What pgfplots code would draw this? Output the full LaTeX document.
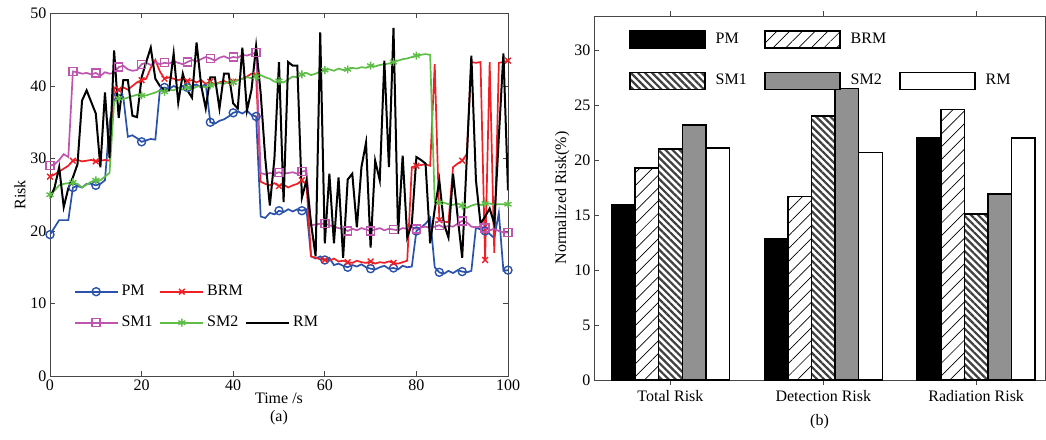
\documentclass[border=0pt]{standalone}
\usepackage{fontspec}
\setmainfont{Liberation Serif}
\usepackage{pgfplots}
\pgfplotsset{compat=1.18}
\usetikzlibrary{patterns.meta}

\definecolor{cPM}{RGB}{42,82,172}
\definecolor{cBRM}{RGB}{238,32,38}
\definecolor{cSM1}{RGB}{190,85,175}
\definecolor{cSM2}{RGB}{95,190,72}
\definecolor{axgray}{RGB}{70,70,70}
\definecolor{barg}{RGB}{145,145,145}

\pgfplotsset{
  common/.style={
    scale only axis,
    font=\fontsize{16}{18}\selectfont,
    /pgf/number format/assume math mode=true,
    axis line style={axgray, line width=0.8pt},
    every tick/.style={axgray, line width=0.8pt},
    tick align=inside,
    major tick length=5pt,
  },
  /pgfplots/boxlegend/.style={
    /pgfplots/legend image code/.code={%
      \draw[##1] (0pt,-8.5pt) rectangle (75pt,8.5pt);
    }%
  },
  /pgfplots/linelegend/.style={
    /pgfplots/legend image code/.code={%
      \draw[mark repeat=2,mark phase=2,##1] plot coordinates {(0pt,0pt) (21.5pt,0pt) (43pt,0pt)};
    }%
  },
}

\begin{document}
\begin{tikzpicture}
\path[use as bounding box] (0pt,0pt) rectangle (1046pt,439pt);

% (a) risk over time
\begin{axis}[common,
  at={(50pt,63pt)}, anchor=south west,
  width=458pt, height=362.5pt,
  xmin=0, xmax=100, ymin=0, ymax=50,
  xtick={0,20,...,100}, ytick={0,10,...,50},
  xlabel={Time /s\\(a)}, xlabel style={align=center, yshift=4pt},
  ylabel={Risk}, ylabel style={yshift=-2pt},
  legend columns=3,
  legend style={at={(0.045,0.258)}, anchor=north west, draw=none, fill=none,
    font=\fontsize{16}{18}\selectfont, row sep=17pt,
    nodes={inner sep=0pt, text height=11pt, text depth=3pt},
    /tikz/every odd column/.append style={column sep=3pt},
    /tikz/every even column/.append style={column sep=2pt, text width=36pt, align=left},
    /tikz/column 4/.append style={column sep=10pt}},
  every axis plot/.append style={line width=1.7pt, mark repeat=5, mark size=4pt,
    mark options={solid, line width=1.4pt}, linelegend},
]
\addplot[cPM, mark=o] coordinates {
(0,19.5)(1,20.5)(2,21.5)(3,21.5)(4,21.5)(5,26)(6,26.2)(7,26)(8,26.5)(9,26.5)(10,26.3)
(11,26.5)(12,27)(13,35)(14,38)(15,38.8)(16,38.5)(17,33)(18,33.2)(19,32.8)(20,32.3)
(21,32.5)(22,32.7)(23,32.6)(24,39.5)(25,39.8)(26,39.6)(27,40)(28,39.7)(29,40)(30,39.8)
(31,40)(32,40.2)(33,39.8)(34,40.3)(35,35)(36,34.8)(37,35.2)(38,35.4)(39,35.8)(40,36.3)
(41,36.5)(42,36.2)(43,36.6)(44,36)(45,35.8)(46,22)(47,21.8)(48,22.5)(49,22.3)(50,22.8)
(51,22.6)(52,23)(53,22.7)(54,23)(55,22.8)(56,23)(57,16.5)(58,16.2)(59,16.5)(60,16)
(61,16.3)(62,15.3)(63,15.5)(64,15.2)(65,15)(66,15.3)(67,15.1)(68,15.4)(69,15)(70,14.8)
(71,14.7)(72,15)(73,15.2)(74,14.8)(75,14.9)(76,14.7)(77,15.2)(78,15)(79,15.1)(80,20)
(81,20.5)(82,21)(83,21.8)(84,15)(85,14.3)(86,14.1)(87,14.5)(88,14.2)(89,14.6)(90,14.4)
(91,14.3)(92,14.5)(93,20.5)(94,20.2)(95,20)(96,19.6)(97,19)(98,22.5)(99,14.5)(100,14.6)};
\addlegendentry{PM}
\addplot[cBRM, mark=x] coordinates {
(0,27.5)(1,27.8)(2,28.2)(3,28.6)(4,29)(5,29.7)(6,29.8)(7,29.6)(8,29.7)(9,29.8)(10,29.6)
(11,29.7)(12,29.8)(13,29.7)(14,39.8)(15,39.5)(16,39.8)(17,39.5)(18,40)(19,40.5)(20,40.8)
(21,41)(22,42.5)(23,43.6)(24,42)(25,41)(26,41.2)(27,41)(28,40.8)(29,41)(30,40.7)
(31,40.8)(32,40.5)(33,40.8)(34,40.3)(35,40.6)(36,40.2)(37,40.5)(38,40.7)(39,40.4)(40,40.6)
(41,40.8)(42,41)(43,41.3)(44,41.7)(45,41.5)(46,26.8)(47,26.5)(48,26.3)(49,26.6)(50,26.2)
(51,26.4)(52,26)(53,26.3)(54,26.5)(55,27)(56,26.4)(57,16.5)(58,16.3)(59,16.1)(60,16)
(61,15.9)(62,16.2)(63,15.8)(64,15.9)(65,15.7)(66,15.6)(67,15.9)(68,15.7)(69,15.6)(70,15.8)
(71,15.5)(72,15.7)(73,15.6)(74,15.8)(75,15.6)(76,15.5)(77,15.7)(78,15.9)(79,28.8)(80,29)
(81,29.1)(82,29.2)(83,29)(84,43)(85,21.5)(86,21.3)(87,21.2)(88,28.8)(89,29.3)(90,29.7)
(91,30.6)(92,43.3)(93,43.2)(94,43.3)(95,16)(96,43.3)(97,17)(98,43.2)(99,43.3)(100,43.5)};
\addlegendentry{BRM}
\addlegendimage{empty legend}
\addlegendentry{}
\addplot[cSM1, mark=square] coordinates {
(0,29)(1,29.2)(2,29.8)(3,30.6)(4,30.2)(5,42)(6,41.9)(7,41.7)(8,41.8)(9,41.6)(10,41.8)
(11,41.4)(12,41.9)(13,41.7)(14,41.8)(15,42.6)(16,42.8)(17,42.3)(18,42.1)(19,42.2)(20,43)
(21,43.2)(22,42.9)(23,43.3)(24,43)(25,43.2)(26,43.1)(27,43.4)(28,43.2)(29,43)(30,43.3)
(31,43.6)(32,43.4)(33,43.7)(34,44)(35,43.8)(36,43.5)(37,43.9)(38,44.1)(39,43.8)(40,44)
(41,43.9)(42,44.3)(43,44.2)(44,44.4)(45,44.6)(46,28)(47,27.8)(48,28)(49,27.9)(50,28.1)
(51,27.9)(52,28)(53,28.1)(54,27.9)(55,28.2)(56,28.3)(57,20.8)(58,20.9)(59,21)(60,21)
(61,20.8)(62,20.6)(63,20.4)(64,20.3)(65,20)(66,20.3)(67,20.1)(68,20.4)(69,20.2)(70,20)
(71,20.2)(72,20.4)(73,20.1)(74,20.3)(75,20.2)(76,20.1)(77,20.4)(78,20.3)(79,20.5)(80,20.3)
(81,20.5)(82,20.6)(83,20.4)(84,20.6)(85,20.8)(86,20.5)(87,20.7)(88,20.6)(89,21)(90,21.4)
(91,21.2)(92,20.6)(93,20.5)(94,20.6)(95,20.4)(96,20.1)(97,20.3)(98,20)(99,19.8)(100,19.8)};
\addlegendentry{SM1}
\addplot[cSM2, mark=asterisk] coordinates {
(0,25)(1,25.6)(2,26.3)(3,26.5)(4,26.6)(5,26.7)(6,26.5)(7,26)(8,26.4)(9,26.8)(10,27)
(11,27)(12,27.5)(13,28)(14,37.8)(15,38.3)(16,38.2)(17,38.4)(18,38.6)(19,38.8)(20,38.7)
(21,38.7)(22,38.9)(23,39.1)(24,39.4)(25,39.2)(26,39.5)(27,39.4)(28,39.7)(29,39.5)(30,39.8)
(31,39.6)(32,39.9)(33,40)(34,39.8)(35,40.1)(36,40.2)(37,40.4)(38,40.3)(39,40.6)(40,40.5)
(41,40.8)(42,41)(43,41.2)(44,41.1)(45,41.3)(46,41.5)(47,41.2)(48,41)(49,40.6)(50,40.7)
(51,40.5)(52,40.9)(53,41.3)(54,41.2)(55,41.6)(56,41.8)(57,41.5)(58,41.7)(59,42)(60,42.2)
(61,42.3)(62,42.1)(63,42.4)(64,42.2)(65,42.3)(66,42.5)(67,42.4)(68,42.6)(69,42.5)(70,42.8)
(71,42.7)(72,42.9)(73,43)(74,43.1)(75,43.3)(76,43.5)(77,43.7)(78,43.8)(79,44)(80,44.2)
(81,44.3)(82,44.4)(83,44.3)(84,24)(85,23.9)(86,23.9)(87,23.7)(88,23.6)(89,23.8)(90,23.5)
(91,23.2)(92,23.5)(93,23.7)(94,23.6)(95,23.8)(96,23.8)(97,23.6)(98,23.7)(99,23.7)(100,23.7)};
\addlegendentry{SM2}
\addplot[black, line width=2pt, mark=none] coordinates {
(0,24.5)(1,26)(2,28.8)(3,23.3)(4,25.9)(5,27.4)(6,29.2)(7,38)(8,39.4)(9,37.8)(10,36.2)
(11,28.8)(12,39.1)(13,30.1)(14,44.9)(15,35.6)(16,40.8)(17,40.8)(18,35.9)(19,35.7)(20,41.2)
(21,43.3)(22,45.3)(23,41)(24,40)(25,39.4)(26,39.4)(27,44.5)(28,37.7)(29,41.7)(30,39.4)
(31,38.4)(32,46)(33,40.1)(34,36.9)(35,41.2)(36,41.2)(37,36.9)(38,41.7)(39,41.7)(40,37.6)
(41,36.9)(42,45.3)(43,36.6)(44,39.5)(45,45.5)(46,39)(47,30)(48,23.5)(49,30)(50,43.3)
(51,24)(52,43.3)(53,42.8)(54,42.8)(55,24.6)(56,27)(57,21)(58,16.5)(59,47.4)(60,18.3)
(61,27.9)(62,18.3)(63,27.4)(64,16.3)(65,27.1)(66,27.9)(67,20.5)(68,28.8)(69,32.2)(70,17.7)
(71,29.7)(72,27)(73,43.5)(74,28.8)(75,48)(76,19.6)(77,30.4)(78,19.1)(79,21)(80,30.2)
(81,29.8)(82,29.3)(83,18.3)(84,23)(85,27)(86,21)(87,19.1)(88,27.9)(89,22)(90,16.3)
(91,30)(92,44.2)(93,27)(94,21)(95,22)(96,23.1)(97,21)(98,33)(99,44.5)(100,25.6)};
\addlegendentry{RM}
\end{axis}

% (b) normalized risk
\begin{axis}[common,
  at={(594pt,59pt)}, anchor=south west,
  width=451pt, height=364pt,
  ybar=0pt, bar width=23.6pt,
  xmin=-0.5, xmax=2.45, ymin=0, ymax=33.1,
  xtick={0,1,2}, xticklabels={Total Risk, Detection Risk, Radiation Risk},
  ytick={0,5,...,30}, ytick pos=left,
  xticklabel style={yshift=-2pt},
  xlabel={(b)}, xlabel style={yshift=-6pt},
  ylabel={Normalized Risk(\%)}, ylabel style={yshift=-2pt},
  legend columns=3,
  legend style={at={(0.071,0.967)}, anchor=north west, draw=none, fill=none,
    font=\fontsize{16}{18}\selectfont, row sep=23pt,
    nodes={inner sep=0pt, text height=11pt, text depth=3pt},
    /tikz/every odd column/.append style={column sep=10pt},
    /tikz/every even column/.append style={column sep=12.5pt, text width=36pt, align=left}},
  every axis plot/.append style={draw=black, line width=1.5pt},
]
\addplot[fill=black, boxlegend] coordinates {(0,15.9) (1,12.8) (2,22.0)};
\addlegendentry{PM}
\addplot[pattern={Lines[angle=45,distance=9pt,line width=0.7pt]}, pattern color=black, boxlegend]
  coordinates {(0,19.3) (1,16.7) (2,24.6)};
\addlegendentry{BRM}
\addlegendimage{empty legend}
\addlegendentry{}
\addplot[pattern={Lines[angle=-45,distance=5pt,line width=2.2pt]}, pattern color=black!75, boxlegend]
  coordinates {(0,21.0) (1,24.0) (2,15.1)};
\addlegendentry{SM1}
\addplot[fill=barg, boxlegend] coordinates {(0,23.2) (1,26.5) (2,16.9)};
\addlegendentry{SM2}
\addplot[fill=white, boxlegend] coordinates {(0,21.1) (1,20.7) (2,22.0)};
\addlegendentry{RM}
\end{axis}
\end{tikzpicture}
\end{document}
